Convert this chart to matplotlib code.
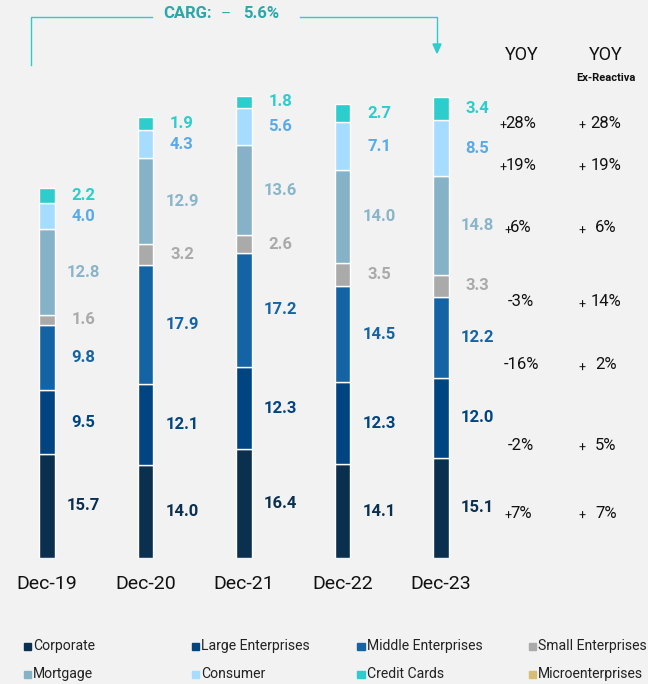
import matplotlib.pyplot as plt
import numpy as np

# data
periods = ['Dec-19', 'Dec-20', 'Dec-21', 'Dec-22', 'Dec-23']
segments = ['Corporate', 'Large Enterprises', 'Middle Enterprises', 'Small Enterprises',
            'Mortgage', 'Consumer', 'Credit Cards']
corporate = [15.7, 14.0, 16.4, 14.1, 15.1]
large = [9.5, 12.1, 12.3, 12.3, 12.0]
middle = [9.8, 17.9, 17.2, 14.5, 12.2]
small = [1.6, 3.2, 2.6, 3.5, 3.3]
mortgage = [12.8, 12.9, 13.6, 14.0, 14.8]
consumer = [4.0, 4.3, 5.6, 7.1, 8.5]
credit_cards = [2.2, 1.9, 1.8, 2.7, 3.4]

# YOY, top to bottom: credit cards ... corporate
yoy = ['+28%', '+19%', '+6%', '-3%', '-16%', '-2%', '+7%']
yoy_ex = ['+28%', '+19%', '+6%', '+14%', '+2%', '+5%', '+7%']
carg = '5.6%'

legend_labels = ['Corporate', 'Large Enterprises', 'Middle Enterprises', 'Small Enterprises',
                 'Mortgage', 'Consumer', 'Credit Cards', 'Microenterprises']

bar_colors = ['#0b2f4f', '#004481', '#1464a5', '#aaaaaa', '#86b2c7', '#a5dcff', '#2dcccd']
label_colors = ['#0b2f4f', '#004481', '#1464a5', '#aaaaaa', '#8ab5c9', '#5aaae8', '#2dcccd']
legend_colors = bar_colors + ['#d8be75']

W, H = 648, 684
bg = '#f2f2f2'
ink = '#111111'
fig = plt.figure(figsize=(W / 100, H / 100), dpi=100, facecolor=bg)


def fx(px):
    return px / W


def fy(py):
    return 1 - py / H


ax = fig.add_axes([0, fy(558), fx(490), (558 - 10) / H])
ax.set_facecolor(bg)
ax.set_xlim(-47 / 98.5, (490 - 47) / 98.5)
ax.set_ylim(0, (558 - 10) / 6.65)
for s in ax.spines.values():
    s.set_visible(False)
ax.set_yticks([])
ax.set_xticks(range(len(periods)))
ax.set_xticklabels(periods, fontsize=14, fontfamily='Roboto', color=ink)
ax.tick_params(axis='x', length=0, pad=12)

x = np.arange(len(periods))
series = [corporate, large, middle, small, mortgage, consumer, credit_cards]
bottom = np.zeros(len(periods))
for vals, c, lc in zip(series, bar_colors, label_colors):
    vals = np.array(vals)
    ax.bar(x, vals, bottom=bottom, width=0.155, color=c, edgecolor='white', linewidth=1)
    for i in range(len(periods)):
        ax.text(x[i] + 0.37, bottom[i] + vals[i] / 2, f'{vals[i]:.1f}', ha='center', va='center',
                fontsize=12, fontweight='bold', fontfamily='Roboto', color=lc)
    bottom += vals

# CARG bracket
teal = '#2dcccd'
fig.add_artist(plt.Line2D([fx(31), fx(31), fx(152)], [fy(65), fy(17), fy(17)], color=teal, lw=1))
fig.add_artist(plt.Line2D([fx(300), fx(437), fx(437)], [fy(17), fy(17), fy(45)], color=teal, lw=1))
fig.add_artist(plt.Polygon([[fx(433), fy(44)], [fx(441), fy(44)], [fx(437), fy(53)]],
                           closed=True, color=teal))
fig.text(fx(163), fy(14), 'CARG:', fontsize=12, fontweight='bold', fontfamily='Roboto',
         color='#2aa8a8', ha='left', va='center')
fig.text(fx(226), fy(15), '\u2013', fontsize=11, fontfamily='Roboto', color='#2aa8a8',
         ha='center', va='center')
fig.text(fx(243), fy(14), carg, fontsize=12, fontweight='bold', fontfamily='Roboto',
         color='#2aa8a8', ha='left', va='center')

# YOY columns
fig.text(fx(522), fy(55), 'YOY', fontsize=13, fontfamily='Roboto', ha='center', va='center',
         color=ink)
fig.text(fx(606), fy(55), 'YOY', fontsize=13, fontfamily='Roboto', ha='center', va='center',
         color=ink)
fig.text(fx(606), fy(78), 'Ex-Reactiva', fontsize=8, fontweight='bold', fontfamily='Roboto',
         ha='center', va='center', color=ink)

rows_px = [123, 165, 228, 302, 365, 445, 513]
for v, ve, py in zip(yoy, yoy_ex, rows_px):
    t = fig.text(fx(521), fy(py), v.lstrip('+'), fontsize=12, fontfamily='Roboto',
                 ha='center', va='center', color=ink)
    if v.startswith('+'):
        ax.annotate('+', xy=(0, 0.05), xycoords=t, ha='right', va='bottom', fontsize=9,
                    fontfamily='Roboto', color=ink,
                    xytext=(1, -2), textcoords='offset points', annotation_clip=False)
    fig.text(fx(606), fy(py), ve.lstrip('+'), fontsize=12, fontfamily='Roboto',
             ha='center', va='center', color=ink)
    fig.text(fx(582), fy(py + 3), '+', fontsize=9, fontfamily='Roboto',
             ha='center', va='center', color=ink)

# legend
col_px = [27, 195, 361, 532]
row_px = [646, 674]
for k, (lab, c) in enumerate(zip(legend_labels, legend_colors)):
    cx = col_px[k % 4]
    ry = row_px[k // 4]
    fig.add_artist(plt.Rectangle((fx(cx - 3.5), fy(ry + 3.5)), fx(7), 7 / H, color=c))
    fig.text(fx(cx + 6), fy(ry), lab, fontsize=10.1, fontfamily='Roboto', ha='left',
             va='center', color='#222222')

fig.savefig('out.png', dpi=100, facecolor=bg)
